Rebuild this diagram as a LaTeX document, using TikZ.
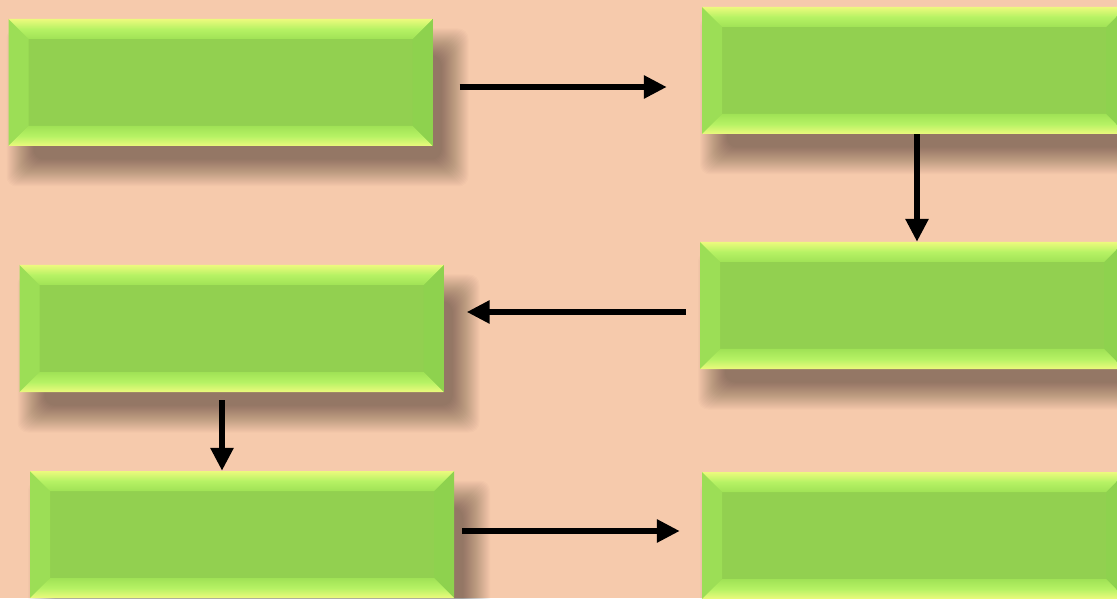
\documentclass[tikz,border=0pt]{standalone}
\usetikzlibrary{arrows.meta}
\definecolor{peach}{RGB}{246,202,172}
\definecolor{leaf}{RGB}{146,208,80}
\definecolor{leafedge}{RGB}{236,250,125}
\definecolor{leaflight}{RGB}{182,242,100}
\definecolor{leafmid}{RGB}{160,226,86}
\definecolor{leafleft}{RGB}{156,222,86}
\definecolor{leafright}{RGB}{142,210,78}
\newcommand{\bev}{20pt}
\tikzstyle{greenbox}=[rectangle,fill=leaf,inner sep=0pt,
                      minimum width=424pt,minimum height=127pt,
                      path picture={
  \fill[leafleft] (path picture bounding box.north west)
    -- ([xshift=\bev,yshift=-\bev]path picture bounding box.north west)
    -- ([xshift=\bev,yshift=\bev]path picture bounding box.south west)
    -- (path picture bounding box.south west) -- cycle;
  \fill[leafright] (path picture bounding box.north east)
    -- ([xshift=-\bev,yshift=-\bev]path picture bounding box.north east)
    -- ([xshift=-\bev,yshift=\bev]path picture bounding box.south east)
    -- (path picture bounding box.south east) -- cycle;
  \shade[top color=leafedge,bottom color=leafmid,middle color=leaflight]
    (path picture bounding box.north west)
    -- (path picture bounding box.north east)
    -- ([xshift=-\bev,yshift=-\bev]path picture bounding box.north east)
    -- ([xshift=\bev,yshift=-\bev]path picture bounding box.north west) -- cycle;
  \shade[top color=leafmid,bottom color=leafedge,middle color=leaflight]
    (path picture bounding box.south west)
    -- (path picture bounding box.south east)
    -- ([xshift=-\bev,yshift=\bev]path picture bounding box.south east)
    -- ([xshift=\bev,yshift=\bev]path picture bounding box.south west) -- cycle;
  }]
\tikzstyle{shadowlayer}=[black,fill opacity=0.016,rounded corners=10pt]
\tikzstyle{flow}=[line width=6.5pt,-{Triangle[length=23pt,width=22pt]}]

\begin{document}
\begin{tikzpicture}[x=1pt,y=1pt]
  \fill[peach] (0,0) rectangle (1117,598);
  \useasboundingbox (0,0) rectangle (1117,598);
  % soft shadows below and right of the boxes
  \foreach \cx/\cy in {220.5/515.5, 914/527.5, 912/292.5,
                       231.5/269.5, 242/63.5, 914/62.5}
    \foreach \g in {0,...,27}
      \fill[shadowlayer] (\cx+17-204-\g, \cy-25-52-\g)
                         rectangle (\cx+17+204+\g, \cy-25+52+\g);
  \node (A) at (220.5, 515.5) [greenbox]{};
  \node (B) at (914, 527.5) [greenbox]{};
  \node (C) at (912, 292.5) [greenbox]{};
  \node (D) at (231.5, 269.5) [greenbox]{};
  \node (E) at (242, 63.5) [greenbox]{};
  \node (F) at (914, 62.5) [greenbox]{};
  \draw[flow,shorten <=27pt,shorten >=35pt]
    ([yshift=-4.5pt]A.east) -- ([yshift=-4.5pt]A.east -| B.west);
  \draw[flow] ([xshift=3pt]B.south) -- ([xshift=3pt]B.south |- C.north);
  \draw[flow,shorten <=14pt,shorten >=23pt]
    ([yshift=-6.5pt]C.west) -- ([yshift=-6.5pt]C.west -| D.east);
  \draw[flow,shorten <=8pt]
    ([xshift=-9.5pt]D.south) -- ([xshift=-9.5pt]D.south |- E.north);
  \draw[flow,shorten <=8pt,shorten >=22pt]
    ([yshift=3.5pt]E.east) -- ([yshift=3.5pt]E.east -| F.west);
\end{tikzpicture}
\end{document}
